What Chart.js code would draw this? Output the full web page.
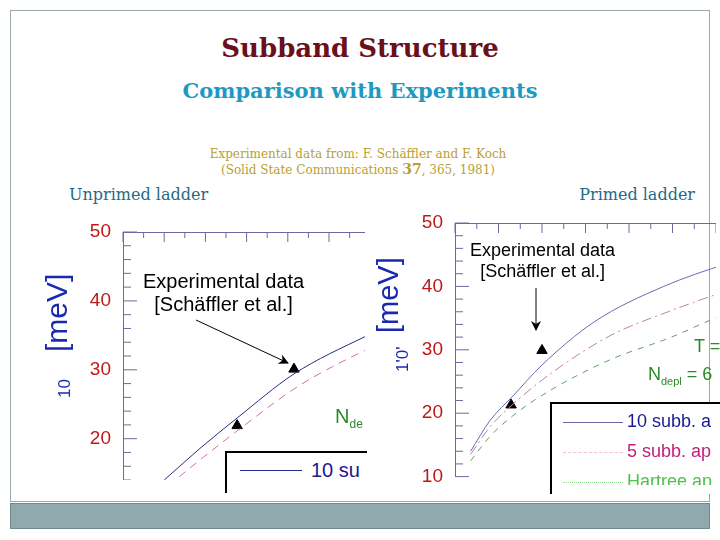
<!DOCTYPE html>
<html lang="en">
<head>
  <meta charset="UTF-8"/>
  <title>Subband Structure</title>
  <script src="https://cdn.jsdelivr.net/npm/chart.js"></script>
  <style>
    body { margin: 0; width: 720px; height: 540px; background: #fff; position: relative; overflow: hidden; font-family: "DejaVu Serif", "Liberation Serif", serif; }
    .frame { position: absolute; left: 10px; top: 10px; width: 698px; height: 490px; border: 1px solid #9aa8b0; }
    .bar { position: absolute; left: 10px; top: 503px; width: 698px; height: 24px; background: #8fa9ac; border: 1px solid #6f8a8e; }
    .t { position: absolute; white-space: nowrap; }
    .clip { position: absolute; overflow: hidden; }
    .clip canvas { position: absolute; left: 0; top: 0; }
    .sans { font-family: "Liberation Sans", Arial, sans-serif; }
    svg { position: absolute; left: 0; top: 0; }
  </style>
</head>
<body>
  <div class="frame"></div>
  <div class="bar"></div>
  <div class="t" style="left:0;width:720px;text-align:center;top:33px;font-size:26px;font-weight:bold;color:#6b0f1a;">Subband Structure</div>
  <div class="t" style="left:0;width:720px;text-align:center;top:78px;font-size:21px;font-weight:bold;color:#1e9ac0;">Comparison with Experiments</div>
  <div class="t" style="left:0;width:716px;text-align:center;top:147px;font-size:12px;line-height:15px;color:#b8a030;">Experimental data from: F. Schäffler and F. Koch<br>(Solid State Communications <b style="font-size:14px">37</b>, 365, 1981)</div>
  <div class="t" style="left:69px;top:185px;font-size:16px;color:#1f6a85;">Unprimed ladder</div>
  <div class="t" style="right:25px;top:185px;font-size:16px;color:#1f6a85;">Primed ladder</div>

  <div class="clip" style="left:45px;top:215px;width:320px;height:265px;"><canvas id="left" width="500" height="308"></canvas></div>
  <div class="clip" style="left:400px;top:205px;width:316px;height:280px;"><canvas id="right" width="500" height="287"></canvas></div>

  <!-- left annotations -->
  <div class="t sans" style="left:40px;top:352px;font-size:30px;color:#1a2ab0;transform:rotate(-90deg);transform-origin:left top;">[meV]</div>
  <div class="t sans" style="left:55px;top:398px;font-size:17px;color:#1a2ab0;transform:rotate(-90deg);transform-origin:left top;">10</div>
  <div class="t sans" style="left:143px;top:270px;font-size:20px;line-height:23px;text-align:center;color:#000;">Experimental data<br>[Schäffler et al.]</div>
  <div class="t sans" style="left:335px;top:405px;font-size:20px;color:#2a8a2a;">N<sub style="font-size:12px">de</sub></div>
  <div class="t" style="left:225px;top:451px;width:140px;height:40px;border-top:2px solid #000;border-left:2px solid #000;background:#fff;"></div>
  <div class="t sans" style="left:240px;top:470px;width:62px;border-top:1px solid #2a2a90;"></div>
  <div class="t sans" style="left:311px;top:459px;font-size:20px;color:#1a1a90;">10 su</div>

  <!-- right annotations -->
  <div class="t sans" style="left:372px;top:333px;font-size:29px;color:#1a2ab0;transform:rotate(-90deg);transform-origin:left top;">[meV]</div>
  <div class="t sans" style="left:393px;top:372px;font-size:17px;color:#1a2ab0;transform:rotate(-90deg);transform-origin:left top;">1'0'</div>
  <div class="t sans" style="left:470px;top:240px;font-size:18px;line-height:21px;text-align:center;color:#000;">Experimental data<br>[Schäffler et al.]</div>
  <div class="t sans" style="left:694px;top:336px;font-size:18px;color:#2a8a2a;">T =</div>
  <div class="t sans" style="left:648px;top:364px;font-size:18px;color:#2a8a2a;">N<sub style="font-size:11px">depl</sub> = 6</div>
  <div class="t" style="left:550px;top:402px;width:170px;height:90px;border-top:2px solid #000;border-left:2px solid #000;background:#fff;"></div>
  <div class="t sans" style="left:563px;top:422px;width:60px;border-top:1px solid #6a6aa8;"></div>
  <div class="t sans" style="left:627px;top:411px;font-size:18px;color:#1a1a90;">10 subb. a</div>
  <div class="t sans" style="left:563px;top:452px;width:60px;border-top:1px dashed #f0c0d8;"></div>
  <div class="t sans" style="left:627px;top:441px;font-size:18px;color:#c0207a;">5 subb. ap</div>
  <div class="t sans" style="left:563px;top:482px;width:60px;border-top:1px dotted #90e090;"></div>
  <div class="t sans" style="left:627px;top:471px;font-size:18px;color:#50c050;height:14px;overflow:hidden;">Hartree ap</div>

  <svg width="720" height="540">
    <defs>
      <marker id="ah" markerWidth="10" markerHeight="10" refX="9" refY="5" orient="auto" markerUnits="userSpaceOnUse">
        <path d="M0,0 L10,5 L0,10 L3,5 z" fill="#000"/>
      </marker>
    </defs>
    <line x1="196" y1="320" x2="288" y2="363" stroke="#000" stroke-width="1" marker-end="url(#ah)"/>
    <line x1="536" y1="288" x2="536" y2="330" stroke="#000" stroke-width="1" marker-end="url(#ah)"/>
  </svg>

  <script>
    // unprimed ladder (x in arbitrary density units)
    const leftX10 = [1.0, 1.87, 2.77, 4.15, 5.87, 8.0];
    const leftY10 = [14.0, 18.6, 23.0, 29.4, 34.8, 40.5];
    const leftX5 = [1.1, 1.95, 2.85, 4.25, 5.87, 8.0];
    const leftY5 = [13.2, 17.3, 21.5, 27.6, 32.8, 38.2];
    const leftExpX = [2.77, 4.15];
    const leftExpY = [21.9, 30.1];

    // primed ladder
    const rightX10 = [0.36, 0.8, 1.33, 2.0, 3.2, 4.8, 6.26, 8.0];
    const rightY10 = [14.0, 18.8, 22.7, 27.6, 34.4, 40.0, 43.6, 47.0];
    const rightX5 = [0.36, 0.8, 1.33, 2.23, 3.59, 4.9, 6.36, 8.0];
    const rightY5 = [13.5, 17.8, 21.4, 26.4, 32.3, 36.0, 39.5, 42.5];
    const rightXH = [0.36, 0.8, 1.33, 2.14, 3.59, 4.9, 6.36, 8.0];
    const rightYH = [12.5, 16.3, 19.6, 23.4, 28.5, 31.8, 36.0, 39.0];
    const rightExpX = [1.29, 2.0];
    const rightExpY = [21.3, 29.9];

    const pts = (xs, ys) => xs.map((x, i) => ({ x, y: ys[i] }));

    // inward tick marks on left and top axes
    const inTicks = {
      id: 'inTicks',
      afterDraw(chart) {
        const { ctx, chartArea: a, scales: { x, y } } = chart;
        ctx.save();
        ctx.strokeStyle = '#6a6aa0';
        ctx.lineWidth = 1;
        y.ticks.forEach(t => {
          const py = y.getPixelForValue(t.value);
          const len = t.value % 10 === 0 ? 14 : 8;
          ctx.beginPath(); ctx.moveTo(a.left, py); ctx.lineTo(a.left + len, py); ctx.stroke();
        });
        x.ticks.forEach(t => {
          const px = x.getPixelForValue(t.value);
          const len = Math.round(t.value * 2) % 2 === 0 ? 10 : 6;
          ctx.beginPath(); ctx.moveTo(px, a.top); ctx.lineTo(px, a.top + len); ctx.stroke();
        });
        ctx.restore();
      }
    };

    function makeChart(id, yw, xh, padBottom, datasets) {
      new Chart(document.getElementById(id), {
        type: 'scatter',
        data: { datasets },
        plugins: [inTicks],
        options: {
          responsive: false,
          animation: false,
          layout: { padding: { right: 10, bottom: padBottom, top: 0, left: 0 } },
          plugins: { legend: { display: false }, tooltip: { enabled: false } },
          scales: {
            x: {
              type: 'linear', position: 'top', min: 0, max: 10,
              ticks: { stepSize: 0.5, callback: () => '', display: true },
              grid: { display: false },
              border: { color: '#6a6aa0' },
              afterFit: s => { s.height = xh; }
            },
            y: {
              min: 10, max: 50,
              ticks: {
                stepSize: 2, autoSkip: false, color: '#c01818', padding: 4,
                font: { family: 'Liberation Sans', size: 19 },
                callback: v => v % 10 === 0 ? v : ''
              },
              grid: { display: false },
              border: { color: '#6a6aa0' },
              afterFit: s => { s.width = yw; }
            }
          }
        }
      });
    }

    const line = (data, color, dash) => ({
      data, showLine: true, borderColor: color, borderWidth: 1, borderDash: dash,
      pointRadius: 0, cubicInterpolationMode: 'monotone', fill: false
    });
    const exp = data => ({
      data, showLine: false, pointStyle: 'triangle', pointRadius: 6,
      backgroundColor: '#000', borderColor: '#000'
    });

    makeChart('left', 78, 17, 0, [
      line(pts(leftX10, leftY10), '#2a2a80', []),
      line(pts(leftX5, leftY5), '#d070a8', [8, 6]),
      exp(pts(leftExpX, leftExpY))
    ]);
    makeChart('right', 55, 18, 12, [
      line(pts(rightX10, rightY10), '#6a6ab0', []),
      line(pts(rightX5, rightY5), '#c080b0', [10, 4, 2, 4]),
      line(pts(rightXH, rightYH), '#60a060', [6, 6]),
      exp(pts(rightExpX, rightExpY))
    ]);
  </script>
</body>
</html>
